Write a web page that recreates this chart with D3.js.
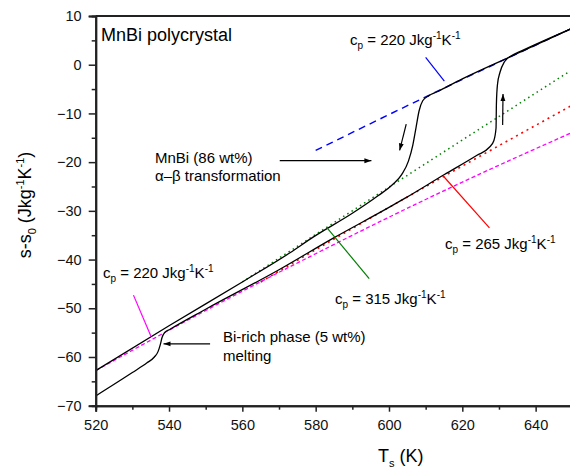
<!DOCTYPE html>
<html>
<head>
<meta charset="utf-8">
<script src="https://cdn.jsdelivr.net/npm/d3@7"></script>
<style>
  body { margin: 0; background: #fff; }
  svg { display: block; font-family: "Liberation Sans", Arial, sans-serif; }
</style>
</head>
<body>
<div class="chart"></div>
<script>
// ticks
const xMajor = [520, 540, 560, 580, 600, 620, 640];
const xMinor = [530, 550, 570, 590, 610, 630, 650];
const yMajor = [-70, -60, -50, -40, -30, -20, -10, 0, 10];
const yMinor = [-65, -55, -45, -35, -25, -15, -5, 5];

// measured curves (T in K, s-s0 in J/kgK)
const coolingCurve = [
  [520, -62.8], [540, -53.6], [560, -44.6], [573, -38.6], [579.3, -35.4],
  [590, -30.5], [597, -26.9], [601, -24.6], [603.5, -22.5], [605.3, -19.8],
  [606.5, -16.5], [607.4, -12.8], [608.2, -9.5], [609.2, -7.4], [610.8, -6.4],
  [613, -5.6], [620, -2.9], [635, 2.3], [650, 7.5]
];
const heatingCurve = [
  [520, -68.0], [530, -63.2], [534, -61.2], [536, -60.0], [537, -58.9],
  [537.6, -57.5], [538.1, -56.0], [538.8, -55.0], [540.3, -54.3], [550, -50.2],
  [570, -42.1], [584.8, -35.6], [600, -29.3], [604.4, -27.4], [615, -22.6],
  [624, -18.6], [627.3, -17.0], [628.6, -15.6], [629.2, -13.0], [629.3, -8.0],
  [629.6, -4.0], [630.3, -1.5], [631.5, 0.6], [633.5, 1.9], [636, 2.8], [650, 7.5]
];

// constant-cp reference lines
const cp220High = [[580, -17.6], [615, -4.8], [650, 7.5]];
const cp315 = [[560, -44.6], [598, -26.1], [650, -1.0]];
const cp265 = [[565, -44.6], [590, -33.6], [614.8, -23.0], [650, -8.3]];
const cp220Low = [[520, -62.8], [540, -54.5], [560, -46.5], [580, -38.8],
  [600, -31.3], [620, -24.1], [650, -13.9]];

// pointers and arrows [[x1,y1],[x2,y2]]
const pointerBlue = [[610.0, 1.5], [615.1, -3.35]];
const pointerRed = [[614.8, -22.85], [627.4, -33.5]];
const pointerGreen = [[583.0, -33.4], [594.6, -43.9]];
const pointerMagenta = [[530.3, -47.3], [535.1, -55.8]];
const arrowMnBi = [[570.2, -19.7], [595.2, -19.7]];
const arrowDown = [[604.7, -12.2], [602.9, -17.6]];
const arrowUp = [[631.0, -12.4], [631.1, -6.0]];
const arrowBi = [[551.2, -57.3], [538.5, -57.3]];

const width = 570, height = 472;
const svg = d3.select('.chart').append('svg')
  .attr('width', width)
  .attr('height', height);

const x = d3.scaleLinear([520, 650], [95.7, 572.3]);
const y = d3.scaleLinear([-70, 10], [405.7, 16]);

svg.append('defs').append('clipPath').attr('id', 'plot')
  .append('rect').attr('x', x(520)).attr('y', y(10))
  .attr('width', x(650) - x(520)).attr('height', y(-70) - y(10));

svg.select('defs').append('marker')
  .attr('id', 'head')
  .attr('viewBox', '0 0 10 10')
  .attr('refX', 10).attr('refY', 5)
  .attr('markerWidth', 9).attr('markerHeight', 7)
  .attr('markerUnits', 'userSpaceOnUse')
  .attr('orient', 'auto')
  .append('path').attr('d', 'M0,1.5L10,5L0,8.5Z').attr('fill', '#000');

const plot = svg.append('g').attr('clip-path', 'url(#plot)');
const line = d3.line().x(d => x(d[0])).y(d => y(d[1]));
const soft = d3.line().x(d => x(d[0])).y(d => y(d[1])).curve(d3.curveMonotoneX);
const smooth = d3.line().x(d => x(d[0])).y(d => y(d[1])).curve(d3.curveMonotoneX);

function refLine(data, color, dash, w) {
  plot.append('path').datum(data)
    .attr('fill', 'none')
    .attr('stroke', color)
    .attr('stroke-width', w)
    .attr('stroke-dasharray', dash)
    .attr('d', soft);
}
refLine(cp220Low, '#ff00ff', '4,2.5', 1.3);
refLine(cp265, '#ff0000', '2,4', 1.6);
refLine(cp315, '#008000', '1.5,3.5', 1.5);
refLine(cp220High, '#0000ff', '7,5', 1.4);

[coolingCurve, heatingCurve].forEach(c => {
  plot.append('path').datum(c)
    .attr('fill', 'none')
    .attr('stroke', '#000')
    .attr('stroke-width', 1.3)
    .attr('d', smooth);
});

// colored pointers
[[pointerBlue, '#0000ff'], [pointerRed, '#ff0000'], [pointerGreen, '#008000'], [pointerMagenta, '#ff00ff']]
  .forEach(([p, c]) => {
    plot.append('path').datum(p)
      .attr('stroke', c).attr('stroke-width', 1.2).attr('fill', 'none')
      .attr('d', line);
  });

// black arrows
[arrowMnBi, arrowDown, arrowUp, arrowBi].forEach(a => {
  svg.append('path').datum(a)
    .attr('stroke', '#000').attr('stroke-width', 1.2).attr('fill', 'none')
    .attr('marker-end', 'url(#head)')
    .attr('d', line);
});

// axes
const axisColor = '#222';
svg.append('g').attr('transform', `translate(0,${y(-70)})`)
  .call(d3.axisBottom(x).tickValues(xMajor).tickSize(6).tickPadding(8).tickFormat(d3.format('d')));
svg.append('g').attr('transform', `translate(0,${y(-70)})`)
  .call(d3.axisBottom(x).tickValues(xMinor).tickSize(4).tickFormat(''));
svg.append('g').attr('transform', `translate(${x(520)},0)`)
  .call(d3.axisLeft(y).tickValues(yMajor).tickSize(7).tickPadding(7).tickFormat(d3.format('d')));
svg.append('g').attr('transform', `translate(${x(520)},0)`)
  .call(d3.axisLeft(y).tickValues(yMinor).tickSize(4).tickFormat(''));

svg.selectAll('.domain').attr('stroke', axisColor).attr('stroke-width', 2);
svg.selectAll('.tick line').attr('stroke', axisColor).attr('stroke-width', 1.5);
svg.selectAll('.tick text')
  .attr('fill', '#111')
  .style('font-size', '14.5px')
  .style('font-family', '"Liberation Sans", Arial, sans-serif');

// top frame
svg.append('line')
  .attr('x1', x(520)).attr('x2', width)
  .attr('y1', y(10)).attr('y2', y(10))
  .attr('stroke', axisColor).attr('stroke-width', 2);

// texts
svg.append('text').attr('x', 101).attr('y', 41)
  .style('font-size', '18px').text('MnBi polycrystal');

function cpLabel(px, py, val) {
  const t = svg.append('text').attr('x', px).attr('y', py).style('font-size', '15px');
  t.append('tspan').text('c');
  t.append('tspan').attr('dy', 4).style('font-size', '10px').text('p');
  t.append('tspan').attr('dy', -4).text(` = ${val} Jkg`);
  t.append('tspan').attr('dy', -6).style('font-size', '10px').text('-1');
  t.append('tspan').attr('dy', 6).text('K');
  t.append('tspan').attr('dy', -6).style('font-size', '10px').text('-1');
}
cpLabel(350, 45, 220);
cpLabel(445, 249, 265);
cpLabel(335, 304, 315);
cpLabel(103, 278, 220);

const mn = svg.append('text').style('font-size', '15px');
mn.append('tspan').attr('x', 155).attr('y', 163).text('MnBi (86 wt%)');
mn.append('tspan').attr('x', 155).attr('y', 181).text('\u03b1\u2013\u03b2 transformation');

const bi = svg.append('text').style('font-size', '15px');
bi.append('tspan').attr('x', 223).attr('y', 342).text('Bi-rich phase (5 wt%)');
bi.append('tspan').attr('x', 223).attr('y', 361).text('melting');

// axis titles
const xt = svg.append('text').attr('x', 378).attr('y', 462).style('font-size', '18px');
xt.append('tspan').text('T');
xt.append('tspan').attr('dy', 5).style('font-size', '11px').text('s');
xt.append('tspan').attr('dy', -5).text(' (K)');

const yt = svg.append('text')
  .attr('transform', 'translate(31,205) rotate(-90)')
  .attr('text-anchor', 'middle')
  .style('font-size', '18px');
yt.append('tspan').text('s-s');
yt.append('tspan').attr('dy', 5).style('font-size', '11px').text('0');
yt.append('tspan').attr('dy', -5).text(' (Jkg');
yt.append('tspan').attr('dy', -7).style('font-size', '11px').text('-1');
yt.append('tspan').attr('dy', 7).text('K');
yt.append('tspan').attr('dy', -7).style('font-size', '11px').text('-1');
yt.append('tspan').attr('dy', 7).text(')');
</script>
</body>
</html>
